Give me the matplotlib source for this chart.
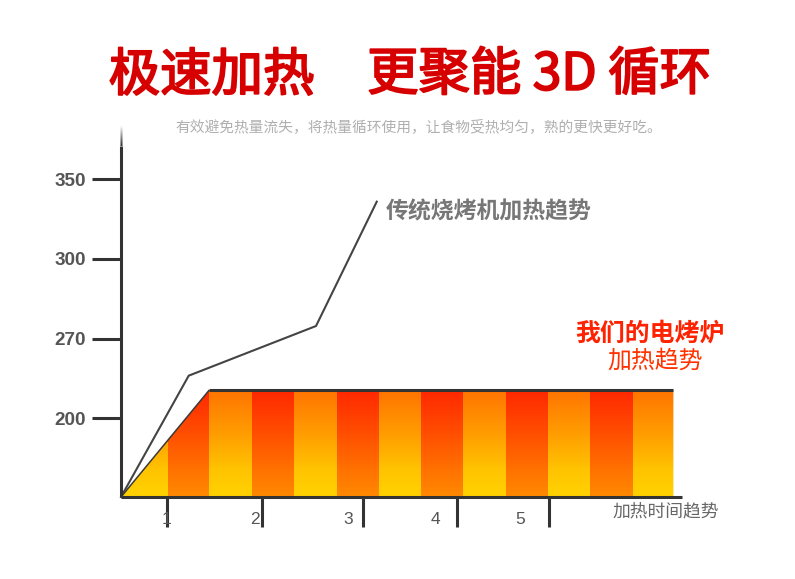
import numpy as np
import matplotlib
matplotlib.use("Agg")
import matplotlib.pyplot as plt
import matplotlib.patheffects as pe
from matplotlib.colors import LinearSegmentedColormap, to_rgba
from matplotlib.patches import Polygon

# ---------------- data ----------------
y_tick_levels = [0.99, 1.99, 2.99, 3.99]
y_tick_labels = ["200", "270", "300", "350"]

x_tick_pos = [1.093, 3.358, 5.744, 7.985, 10.164]
x_label_pos = [1.086, 3.184, 5.402, 7.462, 9.482]
x_tick_labels = ["1", "2", "3", "4", "5"]

# traditional grill heating trend (gray line)
trad_x = [0.0, 1.609, 4.634, 6.077]
trad_y = [0.0, 1.524, 2.148, 3.71]

# our oven heating trend (orange area): ramp then plateau
oven_x = [0.0, 2.098, 13.125]
oven_y = [0.0, 1.344, 1.344]

# stripe edges along the area
stripe_edges = [0.0, 1.124, 2.098, 3.113, 4.111, 5.126, 6.138, 7.129,
                8.135, 9.149, 10.154, 11.145, 12.160, 13.125]

title_left = "极速加热"
title_right = "更聚能 3D 循环"
subtitle = "有效避免热量流失，将热量循环使用，让食物受热均匀，熟的更快更好吃。"
trad_label = "传统烧烤机加热趋势"
oven_label1 = "我们的电烤炉"
oven_label2 = "加热趋势"
x_axis_label = "加热时间趋势"

# ---------------- figure ----------------
W, H = 795, 579
fig = plt.figure(figsize=(W / 100, H / 100), dpi=100)
fig.patch.set_facecolor("white")
CJK = ["Noto Sans CJK SC", "DejaVu Sans"]

ax = fig.add_axes([121 / W, 82 / H, 561 / W, 372 / H])
XMAX, YMAX = 13.33, 4.673
ax.set_xlim(0, XMAX)
ax.set_ylim(0, YMAX)
ax.set_facecolor("none")

axis_col = "#333333"
for s in ["top", "right", "left"]:
    ax.spines[s].set_visible(False)
ax.spines["bottom"].set_color(axis_col)
ax.spines["bottom"].set_linewidth(2.2)
ax.spines["bottom"].set_capstyle("butt")

# left axis: solid part + faded top (pixel-exact gradient via figimage)
fade_start = YMAX - 0.26
ax.plot([0, 0], [0, fade_start], color=axis_col, lw=2.2, clip_on=False,
        solid_capstyle="butt", zorder=5)
px0, py0 = ax.transData.transform((0, fade_start))
px1, py1 = ax.transData.transform((0, YMAX))
nrow = int(round(py1 - py0))
rgba = np.array(to_rgba(axis_col))
g = np.zeros((nrow, 3, 4))
g[:, :, :3] = rgba[:3]
g[:, :, 3] = np.linspace(0, 1, nrow)[:, None]  # row 0 at top (transparent)
g[:, 0, 3] *= 0.55
g[:, 2, 3] *= 0.55
fig.figimage(g, xo=int(round(px0 - 1.5)), yo=int(round(py0)), origin="upper",
             zorder=5)

# y ticks
ax.set_yticks(y_tick_levels, y_tick_labels)
ax.tick_params(axis="y", direction="out", length=21, width=2.2, color=axis_col,
               pad=4, labelcolor="#555555")
for lab in ax.get_yticklabels():
    lab.set_fontfamily("Liberation Sans")
    lab.set_fontweight("bold")
    lab.set_fontsize(13.6)

# x ticks (marks) and labels (minor, offset)
ax.set_xticks(x_tick_pos, [""] * len(x_tick_pos))
ax.tick_params(axis="x", which="major", direction="out", length=21.5, width=2.2,
               color=axis_col)
ax.set_xticks(x_label_pos, x_tick_labels, minor=True)
ax.tick_params(axis="x", which="minor", length=0, pad=11, labelcolor="#555555",
               labelsize=12.5)
for lab in ax.get_xticklabels(minor=True):
    lab.set_fontfamily("Liberation Sans")

# ---------------- orange striped area ----------------
poly = Polygon([(oven_x[0], oven_y[0]), (oven_x[1], oven_y[1]),
                (oven_x[2], oven_y[2]), (oven_x[2], 0)], closed=True,
               facecolor="none", edgecolor="none")
ax.add_patch(poly)

cm_yellow = LinearSegmentedColormap.from_list(
    "yel", [(0.0, "#FFD200"), (0.25, "#FFC400"), (0.6, "#FF9C00"), (1.0, "#FF7400")])
cm_red = LinearSegmentedColormap.from_list(
    "red", [(0.0, "#FF8A00"), (0.25, "#FF7200"), (0.6, "#FF4E00"), (1.0, "#FF2800")])
grad = np.linspace(1, 0, 256).reshape(-1, 1)
top = oven_y[1]
for i in range(len(stripe_edges) - 1):
    cm = cm_yellow if i % 2 == 0 else cm_red
    im = ax.imshow(grad, cmap=cm, vmin=0, vmax=1, aspect="auto",
                   extent=[stripe_edges[i], stripe_edges[i + 1], 0, top],
                   interpolation="bilinear", zorder=2)
    im.set_clip_path(poly)

ax.plot(oven_x[:2], oven_y[:2], color="#3a3a3a", lw=1.1, zorder=3,
        solid_capstyle="butt")
ax.plot(oven_x[1:], oven_y[1:], color="#333333", lw=2.2, zorder=3,
        solid_capstyle="butt")

# ---------------- traditional line ----------------
ax.plot(trad_x, trad_y, color="#444444", lw=1.5, zorder=4, clip_on=False,
        solid_joinstyle="miter")

ax.set_xlim(0, XMAX)
ax.set_ylim(0, YMAX)

# ---------------- texts ----------------
ax.text(6.30, 3.584, trad_label, color="#777777", fontsize=16.5, fontweight="bold",
        family=CJK, ha="left", va="center", clip_on=False)
ax.text(12.56, 2.048, oven_label1, color="#FF2200", fontsize=17.9, fontweight="bold",
        family=CJK, ha="center", va="center", clip_on=False)
ax.text(12.69, 1.712, oven_label2, color="#FF3300", fontsize=17.2,
        family=CJK, ha="center", va="center", clip_on=False)
ax.text(11.69, -0.188, x_axis_label, color="#666666", fontsize=12.8,
        family=CJK, ha="left", va="center", clip_on=False)

red = "#D60000"
thick = [pe.withStroke(linewidth=1.4, foreground=red)]
fig.text(211.5 / W, 1 - 76 / H, title_left, color=red, fontsize=37,
         family=CJK, ha="center", va="center", path_effects=thick)
fig.text(539 / W, 1 - 75 / H, title_right, color=red, fontsize=37,
         family=CJK, ha="center", va="center", path_effects=thick)
fig.text(418.5 / W, 1 - 127 / H, subtitle, color="#AFAFAF", fontsize=10.6,
         family=CJK, ha="center", va="center")

fig.savefig("out.png", dpi=100)
